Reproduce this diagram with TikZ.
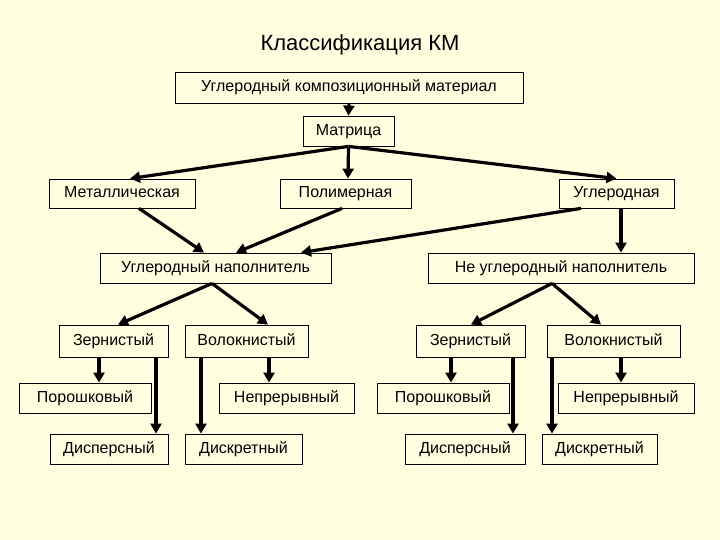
\documentclass[tikz,border=0pt]{standalone}
\usepackage{fontspec}
\setmainfont{Liberation Sans}
\usetikzlibrary{arrows.meta}
\definecolor{bgc}{RGB}{255,255,224}
\begin{document}
\begin{tikzpicture}[x=1pt,y=1pt,
  box/.style={draw=black,line width=0.8pt,minimum height=30pt,inner sep=2pt,text height=12pt,text depth=3pt,font=\fontsize{16}{18}\selectfont},
  arr/.style={line width=3.2pt,-{Triangle[length=10pt,width=11pt]}}]
\fill[bgc] (0,0) rectangle (720,-540);
\useasboundingbox (0,0) rectangle (720,-540);
\node[font=\fontsize{22}{24}\selectfont] (title) at (360,-45) {Классификация КМ};
\node[box,minimum width=348pt,minimum height=31pt] (top) at (349,-87.5) {Углеродный композиционный материал};
\node[box,minimum width=91pt] (mat) at (348.5,-131) {Матрица};
\node[box,minimum width=146pt,minimum height=29pt] (met) at (122,-193.5) {Металлическая};
\node[box,minimum width=131pt,minimum height=29pt] (pol) at (345.5,-193.5) {Полимерная};
\node[box,minimum width=115pt,minimum height=29pt] (ugl) at (616.5,-193.5) {Углеродная};
\node[box,minimum width=231pt] (un) at (215.5,-268) {Углеродный наполнитель};
\node[box,minimum width=266pt] (nun) at (561,-268) {Не углеродный наполнитель};
\node[box,minimum width=109pt,minimum height=32pt] (z1) at (113.5,-341) {Зернистый};
\node[box,minimum width=123pt,minimum height=32pt] (v1) at (246.5,-341) {Волокнистый};
\node[box,minimum width=109pt,minimum height=32pt] (z2) at (470.5,-341) {Зернистый};
\node[box,minimum width=133pt,minimum height=32pt] (v2) at (613.5,-341) {Волокнистый};
\node[box,minimum width=132pt] (p1) at (85,-398) {Порошковый};
\node[box,minimum width=135pt] (n1) at (286.5,-398) {Непрерывный};
\node[box,minimum width=132pt] (p2) at (443,-398) {Порошковый};
\node[box,minimum width=136pt] (n2) at (626,-398) {Непрерывный};
\node[box,minimum width=118pt] (d1) at (109,-449) {Дисперсный};
\node[box,minimum width=117pt] (k1) at (243.5,-449) {Дискретный};
\node[box,minimum width=120pt] (d2) at (465,-449) {Дисперсный};
\node[box,minimum width=115pt] (k2) at (599.5,-449) {Дискретный};
\draw[arr] (top.south) -- (mat.north);
\draw[arr] (mat.south) -- ([xshift=8pt]met.north);
\draw[arr] (mat.south) -- ([xshift=2.5pt]pol.north);
\draw[arr] (mat.south) -- (ugl.north);
\draw[arr] ([xshift=17pt]met.south) -- ([xshift=-11.5pt]un.north);
\draw[arr] ([xshift=-3.5pt]pol.south) -- ([xshift=20.5pt]un.north);
\draw[arr] ([xshift=-35.5pt]ugl.south) -- ([xshift=85.5pt]un.north);
\draw[arr] ([xshift=4.5pt]ugl.south) -- ([xshift=60pt]nun.north);
\draw[arr] ([xshift=-3.5pt]un.south) -- ([xshift=4.5pt]z1.north);
\draw[arr] ([xshift=-3.5pt]un.south) -- ([xshift=21.5pt]v1.north);
\draw[arr] ([xshift=-9pt]nun.south) -- ([xshift=0.5pt]z2.north);
\draw[arr] ([xshift=-9pt]nun.south) -- ([xshift=-12.5pt]v2.north);
\draw[arr] ([xshift=-14.5pt]z1.south) -- ([xshift=14pt]p1.north);
\draw[arr] ([xshift=42.5pt]z1.south) -- ([xshift=47pt]d1.north);
\draw[arr] ([xshift=-45.5pt]v1.south) -- ([xshift=-42.5pt]k1.north);
\draw[arr] ([xshift=22.5pt]v1.south) -- ([xshift=-17.5pt]n1.north);
\draw[arr] ([xshift=-19.5pt]z2.south) -- ([xshift=8pt]p2.north);
\draw[arr] ([xshift=42.5pt]z2.south) -- ([xshift=48pt]d2.north);
\draw[arr] ([xshift=-61.5pt]v2.south) -- ([xshift=-47.5pt]k2.north);
\draw[arr] ([xshift=7.5pt]v2.south) -- ([xshift=-5pt]n2.north);
\end{tikzpicture}
\end{document}
